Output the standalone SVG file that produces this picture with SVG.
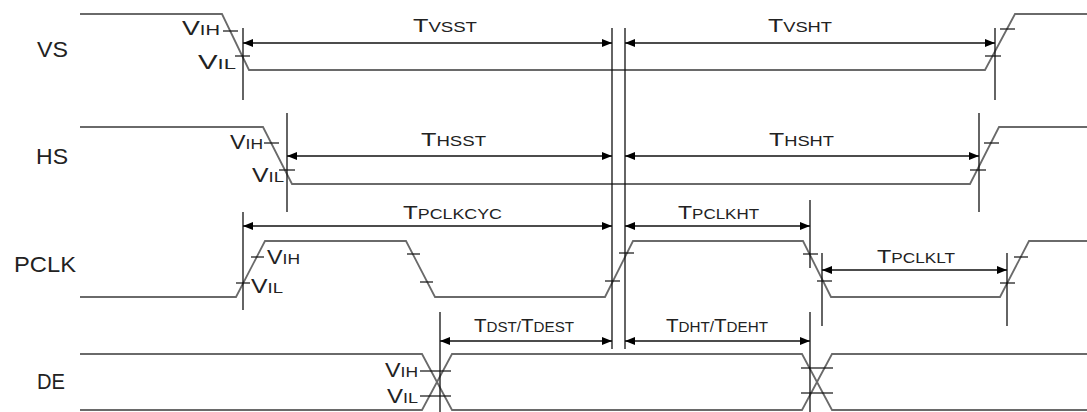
<svg xmlns="http://www.w3.org/2000/svg" width="1087" height="412" viewBox="0 0 1087 412">
<defs>
<marker id="ah" viewBox="0 0 10 8" refX="10" refY="4" markerWidth="10" markerHeight="8" markerUnits="userSpaceOnUse" orient="auto-start-reverse">
<path d="M0,0 L10,4 L0,8 z" fill="#000"/>
</marker>
<style>
.sig{fill:none;stroke:#6a6a6a;stroke-width:1.8;stroke-linejoin:miter}
.tk{stroke:#111;stroke-width:1.2;fill:none}
.vl{stroke:#111;stroke-width:1.3;fill:none}
.dim{stroke:#111;stroke-width:1.3;fill:none;marker-start:url(#ah);marker-end:url(#ah)}
.lbl{font-family:"Liberation Sans",Arial,sans-serif;font-size:22px;fill:#222}
.tt{font-family:"Liberation Sans",Arial,sans-serif;fill:#222}
.b{font-size:19px}
.s{font-size:14px}
.vb{font-size:20px}
.vs{font-size:15px}
</style>
</defs>
<rect width="1087" height="412" fill="#fff"/>

<g id="signal-labels">
<text class="lbl" x="37" y="57" textLength="31" lengthAdjust="spacingAndGlyphs">VS</text>
<text class="lbl" x="36" y="164" textLength="32" lengthAdjust="spacingAndGlyphs">HS</text>
<text class="lbl" x="14" y="272" textLength="62" lengthAdjust="spacingAndGlyphs">PCLK</text>
<text class="lbl" x="37" y="389" textLength="28" lengthAdjust="spacingAndGlyphs">DE</text>
</g>

<g id="vs">
<polyline class="sig" points="80,14 222,14 249,70 985,70 1015,14 1087,14"/>
<line class="tk" x1="223" y1="31" x2="238" y2="31"/>
<line class="tk" x1="235" y1="56" x2="250" y2="56"/>
<line class="tk" x1="1000" y1="29" x2="1015" y2="29"/>
<line class="tk" x1="985" y1="56" x2="1001" y2="56"/>
<text class="tt" x="182" y="35" textLength="38" lengthAdjust="spacingAndGlyphs"><tspan class="vb">V</tspan><tspan class="vs">IH</tspan></text>
<text class="tt" x="198" y="69" textLength="38" lengthAdjust="spacingAndGlyphs"><tspan class="vb">V</tspan><tspan class="vs">IL</tspan></text>
</g>

<g id="hs">
<polyline class="sig" points="80,127 263,127 292,184 970,184 999,127 1087,127"/>
<line class="tk" x1="264" y1="143" x2="279" y2="143"/>
<line class="tk" x1="279" y1="170" x2="295" y2="170"/>
<line class="tk" x1="984" y1="143" x2="999" y2="143"/>
<line class="tk" x1="970" y1="170" x2="986" y2="170"/>
<text class="tt" x="230" y="149" textLength="33" lengthAdjust="spacingAndGlyphs"><tspan class="vb">V</tspan><tspan class="vs">IH</tspan></text>
<text class="tt" x="252" y="182" textLength="32" lengthAdjust="spacingAndGlyphs"><tspan class="vb">V</tspan><tspan class="vs">IL</tspan></text>
</g>

<g id="pclk">
<polyline class="sig" points="80,297 236,297 265,241 406,241 435,297 605,297 633,241 803,241 831,297 1000,297 1029,241 1087,241"/>
<line class="tk" x1="251" y1="257" x2="264" y2="257"/>
<line class="tk" x1="236" y1="283" x2="250" y2="283"/>
<line class="tk" x1="407" y1="254" x2="420" y2="254"/>
<line class="tk" x1="420" y1="282" x2="433" y2="282"/>
<line class="tk" x1="605" y1="281" x2="620" y2="281"/>
<line class="tk" x1="619" y1="253" x2="634" y2="253"/>
<line class="tk" x1="803" y1="254" x2="818" y2="254"/>
<line class="tk" x1="817" y1="281" x2="832" y2="281"/>
<line class="tk" x1="1014" y1="257" x2="1028" y2="257"/>
<line class="tk" x1="1000" y1="283" x2="1015" y2="283"/>
<text class="tt" x="267" y="264" textLength="33" lengthAdjust="spacingAndGlyphs"><tspan class="vb">V</tspan><tspan class="vs">IH</tspan></text>
<text class="tt" x="251" y="293" textLength="32" lengthAdjust="spacingAndGlyphs"><tspan class="vb">V</tspan><tspan class="vs">IL</tspan></text>
</g>

<g id="de">
<polyline class="sig" points="80,354 422,354 452,410 802,410 832,354 1087,354"/>
<polyline class="sig" points="80,410 422,410 452,354 802,354 832,410 1087,410"/>
<line class="tk" x1="420" y1="371" x2="451" y2="371"/>
<line class="tk" x1="420" y1="396" x2="451" y2="396"/>
<line class="tk" x1="801" y1="368" x2="833" y2="368"/>
<line class="tk" x1="801" y1="393" x2="833" y2="393"/>
<text class="tt" x="385" y="377" textLength="33" lengthAdjust="spacingAndGlyphs"><tspan class="vb">V</tspan><tspan class="vs">IH</tspan></text>
<text class="tt" x="387" y="403" textLength="31" lengthAdjust="spacingAndGlyphs"><tspan class="vb">V</tspan><tspan class="vs">IL</tspan></text>
</g>

<g id="connectors">
<line class="vl" x1="243" y1="28" x2="243" y2="100"/>
<line class="vl" x1="995" y1="28" x2="995" y2="100"/>
<line class="vl" x1="287" y1="113" x2="287" y2="212"/>
<line class="vl" x1="979" y1="113" x2="979" y2="212"/>
<line class="vl" x1="243" y1="212" x2="243" y2="310"/>
<line class="vl" x1="612" y1="28" x2="612" y2="349"/>
<line class="vl" x1="625" y1="28" x2="625" y2="349"/>
<line class="vl" x1="810" y1="200" x2="810" y2="268"/>
<line class="vl" x1="822" y1="253" x2="822" y2="326"/>
<line class="vl" x1="1007" y1="253" x2="1007" y2="326"/>
<line class="vl" x1="440" y1="312" x2="440" y2="412"/>
<line class="vl" x1="810" y1="312" x2="810" y2="412"/>

<line class="dim" x1="243" y1="43" x2="612" y2="43"/>
<line class="dim" x1="625" y1="43" x2="995" y2="43"/>
<line class="dim" x1="287" y1="156" x2="612" y2="156"/>
<line class="dim" x1="625" y1="156" x2="979" y2="156"/>
<line class="dim" x1="243" y1="226" x2="612" y2="226"/>
<line class="dim" x1="625" y1="226" x2="810" y2="226"/>
<line class="dim" x1="822" y1="270" x2="1007" y2="270"/>
<line class="dim" x1="440" y1="341" x2="612" y2="341"/>
<line class="dim" x1="625" y1="341" x2="810" y2="341"/>
</g>

<g id="timing-labels">
<text class="tt" x="413" y="32" textLength="64" lengthAdjust="spacingAndGlyphs"><tspan class="b">T</tspan><tspan class="s">VSST</tspan></text>
<text class="tt" x="768" y="32" textLength="64" lengthAdjust="spacingAndGlyphs"><tspan class="b">T</tspan><tspan class="s">VSHT</tspan></text>
<text class="tt" x="421" y="146" textLength="65" lengthAdjust="spacingAndGlyphs"><tspan class="b">T</tspan><tspan class="s">HSST</tspan></text>
<text class="tt" x="769" y="146" textLength="65" lengthAdjust="spacingAndGlyphs"><tspan class="b">T</tspan><tspan class="s">HSHT</tspan></text>
<text class="tt" x="403" y="219" textLength="99" lengthAdjust="spacingAndGlyphs"><tspan class="b">T</tspan><tspan class="s">PCLKCYC</tspan></text>
<text class="tt" x="678" y="219" textLength="81" lengthAdjust="spacingAndGlyphs"><tspan class="b">T</tspan><tspan class="s">PCLKHT</tspan></text>
<text class="tt" x="877" y="263" textLength="78" lengthAdjust="spacingAndGlyphs"><tspan class="b">T</tspan><tspan class="s">PCLKLT</tspan></text>
<text class="tt" x="474" y="332" textLength="100" lengthAdjust="spacingAndGlyphs"><tspan class="b">T</tspan><tspan class="s">DST/</tspan><tspan class="b">T</tspan><tspan class="s">DEST</tspan></text>
<text class="tt" x="666" y="332" textLength="102" lengthAdjust="spacingAndGlyphs"><tspan class="b">T</tspan><tspan class="s">DHT/</tspan><tspan class="b">T</tspan><tspan class="s">DEHT</tspan></text>
</g>
</svg>
